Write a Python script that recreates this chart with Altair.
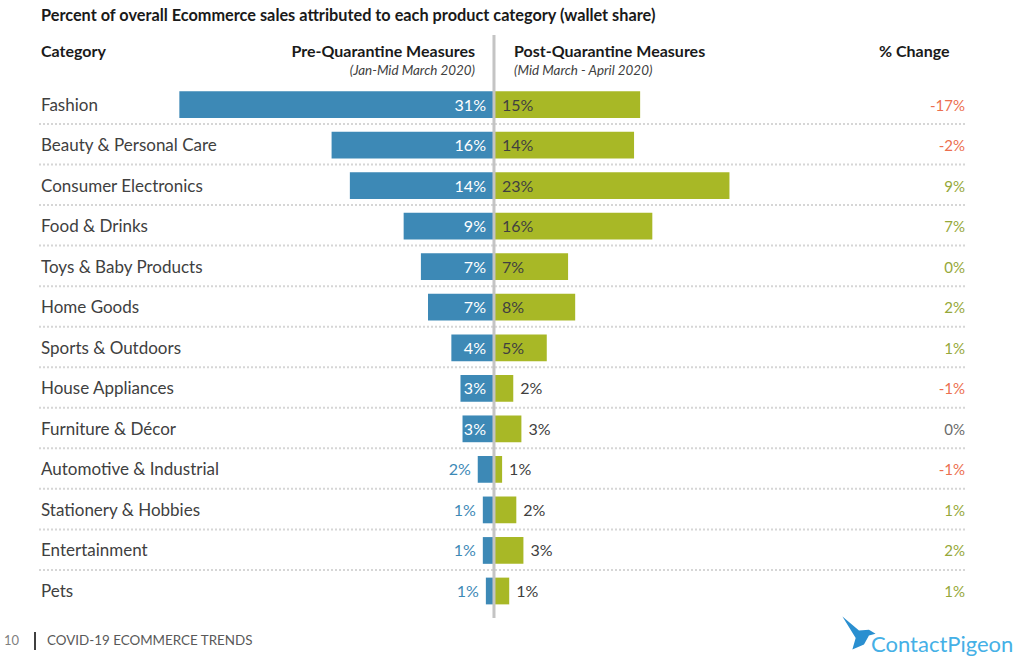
import altair as alt
import pandas as pd

categories = ["Fashion", "Beauty & Personal Care", "Consumer Electronics", "Food & Drinks",
              "Toys & Baby Products", "Home Goods", "Sports & Outdoors", "House Appliances",
              "Furniture & Décor", "Automotive & Industrial", "Stationery & Hobbies",
              "Entertainment", "Pets"]
pre = [31.0, 16.0, 14.2, 8.9, 7.2, 6.5, 4.2, 3.3, 3.1, 1.6, 1.1, 1.1, 0.8]
post = [14.4, 13.8, 23.2, 15.6, 7.3, 8.0, 5.2, 1.9, 2.7, 0.8, 2.2, 2.9, 1.5]
pre_labels = ["31%", "16%", "14%", "9%", "7%", "7%", "4%", "3%", "3%", "2%", "1%", "1%", "1%"]
post_labels = ["15%", "14%", "23%", "16%", "7%", "8%", "5%", "2%", "3%", "1%", "2%", "3%", "1%"]
change = [-17, -2, 9, 7, 0.1, 2, 1, -1, 0, -1, 1, 2, 1]
change_labels = ["-17%", "-2%", "9%", "7%", "0%", "2%", "1%", "-1%", "0%", "-1%", "1%", "2%", "1%"]

title = "Percent of overall Ecommerce sales attributed to each product category (wallet share)"
col_category = "Category"
col_pre = "Pre-Quarantine Measures"
col_pre_sub = "(Jan-Mid March 2020)"
col_post = "Post-Quarantine Measures"
col_post_sub = "(Mid March - April 2020)"
col_change = "% Change"
footer_page = "10"
footer_text = "COVID-19 ECOMMERCE TRENDS"
logo_text = "ContactPigeon"

FONT = "Lato"
BLUE = "#3d89b6"
GREEN = "#a8b826"
DARK = "#404040"
NEG = "#ec6f4f"
POS = "#96a83a"
ZERO = "#6b6b6b"

df = pd.DataFrame({
    "category": categories,
    "idx": list(range(len(categories))),
    "pre": pre,
    "post": post,
    "pre_label": pre_labels,
    "post_label": post_labels,
    "change": change,
    "change_label": change_labels,
})

xscale = alt.Scale(domain=[-48.67, 52.22], nice=False, zero=False)
yscale = alt.Scale(domain=[-2.578, 13.850], nice=False, zero=False, reverse=True)

def Y(field):
    return alt.Y(field, type="quantitative", scale=yscale, axis=None)

def X(field):
    return alt.X(field, type="quantitative", scale=xscale, axis=None)

base = alt.Chart(df).transform_calculate(
    neg_pre="-datum.pre",
    zero="0",
    top="datum.idx - 0.33",
    bot="datum.idx + 0.33",
    sep="datum.idx + 0.48",
    ccol=f"datum.change < 0 ? '{NEG}' : (datum.change > 0 ? '{POS}' : '{ZERO}')",
)

separators = base.transform_filter("datum.idx < 12").mark_rule(
    color="#d6d6d6", strokeWidth=2, strokeDash=[2, 2]
).encode(y=Y("sep"), x=alt.value(39), x2=alt.value(967))

pre_bars = base.mark_bar(color=BLUE).encode(
    y=Y("top"), y2="bot:Q", x=X("neg_pre"), x2="zero:Q"
)
post_bars = base.mark_bar(color=GREEN).encode(
    y=Y("top"), y2="bot:Q", x=X("post"), x2="zero:Q"
)

pre_in = base.transform_filter("datum.pre >= 2.5").mark_text(
    align="right", baseline="middle", dx=-8, dy=1, font=FONT, fontSize=16, color="white"
).encode(y=Y("idx"), x=X("zero"), text="pre_label:N")
pre_out = base.transform_filter("datum.pre < 2.5").mark_text(
    align="right", baseline="middle", dx=-7, dy=1, font=FONT, fontSize=16, color=BLUE
).encode(y=Y("idx"), x=X("neg_pre"), text="pre_label:N")

post_in = base.transform_filter("datum.post >= 4.5").mark_text(
    align="left", baseline="middle", dx=8, dy=1, font=FONT, fontSize=16, color=DARK
).encode(y=Y("idx"), x=X("zero"), text="post_label:N")
post_out = base.transform_filter("datum.post < 4.5").mark_text(
    align="left", baseline="middle", dx=7, dy=1, font=FONT, fontSize=16, color=DARK
).encode(y=Y("idx"), x=X("post"), text="post_label:N")

cat_text = base.mark_text(
    align="left", baseline="middle", dy=1, font=FONT, fontSize=17, color=DARK
).encode(y=Y("idx"), x=alt.value(41), text="category:N")

change_text = base.mark_text(
    align="right", baseline="middle", dy=1, font=FONT, fontSize=15
).encode(
    y=Y("idx"), x=alt.value(965), text="change_label:N",
    color=alt.Color("ccol:N", scale=None),
)

center_line = base.transform_filter("datum.idx == 0").mark_rule(
    color="#c4c4c4", strokeWidth=3
).encode(x=X("zero"), y=alt.value(35), y2=alt.value(618))

def label(text, x, y, size, align="left", weight="normal", style="normal", color="#1a1a1a"):
    return alt.Chart(pd.DataFrame({"t": [text]})).mark_text(
        align=align, baseline="middle", fontSize=size, fontWeight=weight, fontStyle=style,
        color=color, font=FONT
    ).encode(x=alt.value(x), y=alt.value(y), text="t:N")

headers = [
    label(title, 41, 16, 16.3, weight="bold"),
    label(col_category, 41, 52, 16, weight="bold"),
    label(col_pre, 475, 52, 16, align="right", weight="bold"),
    label(col_pre_sub, 475, 71, 13.4, align="right", style="italic", color=DARK),
    label(col_post, 514, 52, 16, align="left", weight="bold"),
    label(col_post_sub, 514, 71, 13.4, align="left", style="italic", color=DARK),
    label(col_change, 879, 52, 16, align="left", weight="bold"),
    label(footer_page, 4, 641, 13, color="#7f7f7f"),
    label(footer_text, 47, 641, 13.4, color="#595959"),
    label(logo_text, 871, 645, 22, color="#45b0e6"),
]

footer_bar = alt.Chart(pd.DataFrame({"v": [0]})).mark_rule(color="#404040", strokeWidth=2).encode(
    x=alt.value(35), y=alt.value(632), y2=alt.value(650)
)

bird = alt.Chart(pd.DataFrame({"v": [0]})).mark_point(
    shape="M -1 -1 L 0 -0.15 L 0.6 -0.2 L 1 0.05 L 0.6 0.15 L 0.3 0.7 L -0.4 1 L -0.2 0.3 Z",
    filled=True, color="#2a8fd0", opacity=1, size=1100, strokeWidth=0
).encode(x=alt.value(859), y=alt.value(633))

chart = alt.layer(
    separators, pre_bars, post_bars, center_line, pre_in, pre_out, post_in, post_out,
    cat_text, change_text, footer_bar, bird, *headers
).properties(
    width=1024, height=666, autosize=alt.AutoSizeParams(type="none"), padding=0
).configure(background="white").configure_view(stroke=None)

chart.save("out.html", embed_options={"renderer": "svg", "actions": False})
